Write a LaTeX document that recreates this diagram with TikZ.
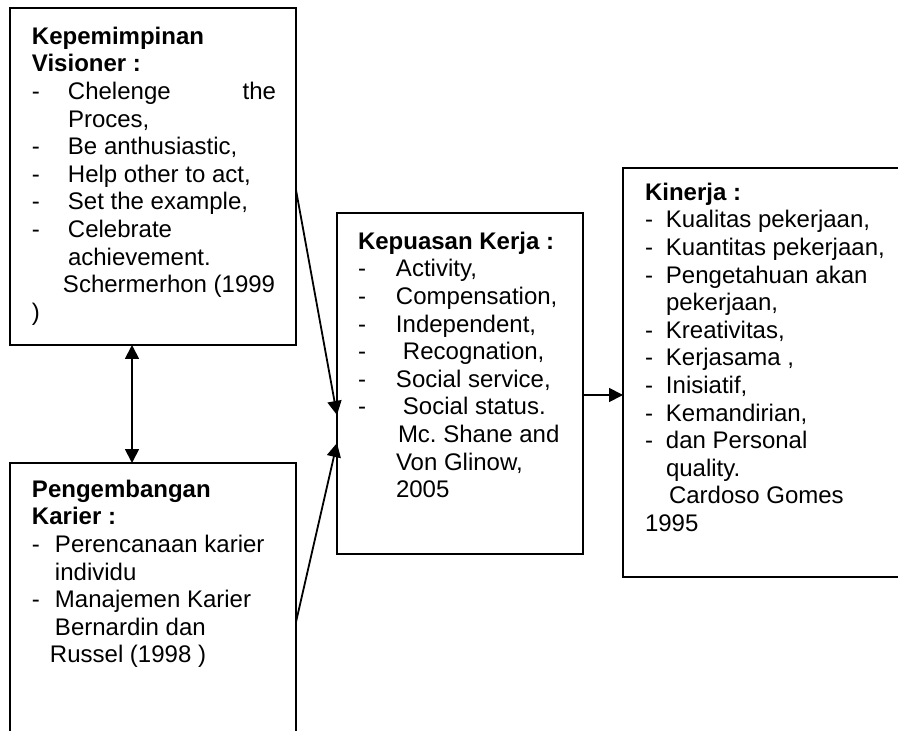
\documentclass[tikz,border=0pt]{standalone}
\usepackage{fontspec}
\setmainfont{Liberation Sans}
\usetikzlibrary{positioning,arrows.meta}
\tikzset{
	every picture/.style={x=0.5pt, y=-0.5pt},
	box/.style={draw, line width=0.9pt, anchor=north west, inner sep=0pt, outer sep=0pt},
	txt/.style={inner sep=0pt, outer sep=0pt, text width=150pt, align=flush left, font=\fontsize{12}{13.8}\selectfont},
	link/.style={line width=0.9pt, -{Triangle[length=7pt,width=7pt]}},
}
\newcommand{\dsh}[1]{\makebox[#1][l]{-}}
\newcommand{\ind}[1]{\hspace*{#1}}

\begin{document}
\begin{tikzpicture}
	\useasboundingbox (0,0) rectangle (898,731);
	\clip (0,0) rectangle (898,731);
	\node[box, minimum width=143pt, minimum height=168.5pt] (visioner) at (10,8) {};
	\node[box, minimum width=143pt, minimum height=141pt] (karier) at (10,463) {};
	\node[box, minimum width=123pt, minimum height=170.5pt] (kepuasan) at (337,213) {};
	\node[box, minimum width=141pt, minimum height=204.5pt] (kinerja) at (623,168) {};

	\node[txt, below right=9.5pt and 11pt of visioner.north west] (visionertxt) {
		\textbf{Kepemimpinan}\\
		\textbf{Visioner :}\\
		\dsh{18pt}\makebox[104pt][l]{Chelenge\hfill the}\\
		\ind{18pt}Proces,\\
		\dsh{18pt}Be anthusiastic,\\
		\dsh{18pt}Help other to act,\\
		\dsh{18pt}Set the example,\\
		\dsh{18pt}Celebrate\\
		\ind{18pt}achievement.\\
		\ind{15.5pt}Schermerhon (1999\\
		)};
	\node[txt, below right=8.5pt and 11pt of karier.north west] (kariertxt) {
		\textbf{Pengembangan}\\
		\textbf{Karier :}\\
		\dsh{11.5pt}Perencanaan karier\\
		\ind{11.5pt}individu\\
		\dsh{11.5pt}Manajemen Karier\\
		\ind{11.5pt}Bernardin dan\\
		\ind{9pt}Russel (1998 )};
	\node[txt, below right=9.5pt and 10.5pt of kepuasan.north west] (kepuasantxt) {
		\textbf{Kepuasan Kerja :}\\
		\dsh{19pt}Activity,\\
		\dsh{19pt}Compensation,\\
		\dsh{19pt}Independent,\\
		\dsh{22.5pt}Recognation,\\
		\dsh{19pt}Social service,\\
		\dsh{22.5pt}Social status.\\
		\ind{20pt}Mc.\ Shane and\\
		\ind{19pt}Von Glinow,\\
		\ind{19pt}2005};
	\node[txt, below right=7.5pt and 11pt of kinerja.north west] (kinerjatxt) {
		\textbf{Kinerja :}\\
		\dsh{10.5pt}Kualitas pekerjaan,\\
		\dsh{10.5pt}Kuantitas pekerjaan,\\
		\dsh{10.5pt}Pengetahuan akan\\
		\ind{10.5pt}pekerjaan,\\
		\dsh{10.5pt}Kreativitas,\\
		\dsh{10.5pt}Kerjasama ,\\
		\dsh{10.5pt}Inisiatif,\\
		\dsh{10.5pt}Kemandirian,\\
		\dsh{10.5pt}dan Personal\\
		\ind{10.5pt}quality.\\
		\ind{12pt}Cardoso Gomes\\
		1995};

	\draw[link, {Triangle[length=7pt,width=7pt]}-{Triangle[length=7pt,width=7pt]}] ([xshift=-10.5pt]visioner.south) -- ([xshift=-10.5pt]karier.north);
	\draw[link] ([yshift=-6.75pt]visioner.east) -- ([yshift=-15.75pt]kepuasan.west);
	\draw[link] ([yshift=-9pt]karier.east) -- ([yshift=-29.75pt]kepuasan.west);
	\draw[link] ([yshift=-5.75pt]kepuasan.east) -- ([yshift=-11.25pt]kinerja.west);
\end{tikzpicture}
\end{document}
